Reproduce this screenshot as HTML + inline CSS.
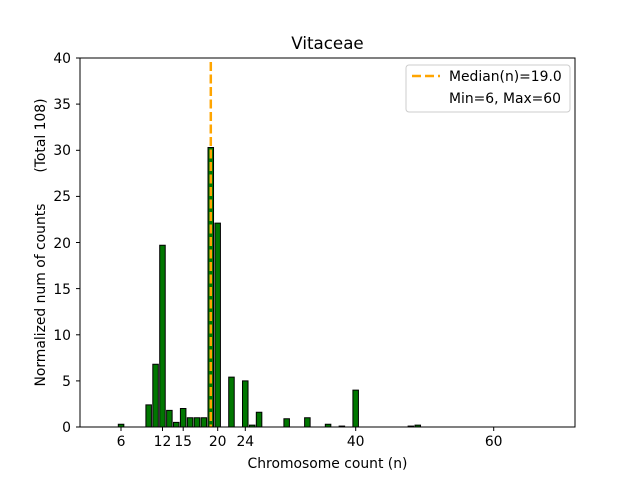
<!DOCTYPE html>
<html><head><meta charset="utf-8"><style>
html,body{margin:0;padding:0;background:#fff;}
svg{display:block;font-family:"DejaVu Sans","Liberation Sans",sans-serif;}
</style></head><body>
<svg width="640" height="480" viewBox="0 0 640 480" xmlns="http://www.w3.org/2000/svg">
<rect width="640" height="480" fill="#fff"/>
<g transform="translate(79.67,427) scale(6.9,-9.225)" fill="#007700" stroke="#000" stroke-width="1">
<rect vector-effect="non-scaling-stroke" x="5.6" y="0" width="0.8" height="0.3"/>
<rect vector-effect="non-scaling-stroke" x="9.6" y="0" width="0.8" height="2.4"/>
<rect vector-effect="non-scaling-stroke" x="10.6" y="0" width="0.8" height="6.8"/>
<rect vector-effect="non-scaling-stroke" x="11.6" y="0" width="0.8" height="19.7"/>
<rect vector-effect="non-scaling-stroke" x="12.6" y="0" width="0.8" height="1.8"/>
<rect vector-effect="non-scaling-stroke" x="13.6" y="0" width="0.8" height="0.5"/>
<rect vector-effect="non-scaling-stroke" x="14.6" y="0" width="0.8" height="2.0"/>
<rect vector-effect="non-scaling-stroke" x="15.6" y="0" width="0.8" height="1.0"/>
<rect vector-effect="non-scaling-stroke" x="16.6" y="0" width="0.8" height="1.0"/>
<rect vector-effect="non-scaling-stroke" x="17.6" y="0" width="0.8" height="1.0"/>
<rect vector-effect="non-scaling-stroke" x="18.6" y="0" width="0.8" height="30.3"/>
<rect vector-effect="non-scaling-stroke" x="19.6" y="0" width="0.8" height="22.1"/>
<rect vector-effect="non-scaling-stroke" x="21.6" y="0" width="0.8" height="5.4"/>
<rect vector-effect="non-scaling-stroke" x="23.6" y="0" width="0.8" height="5.0"/>
<rect vector-effect="non-scaling-stroke" x="24.6" y="0" width="0.8" height="0.2"/>
<rect vector-effect="non-scaling-stroke" x="25.6" y="0" width="0.8" height="1.6"/>
<rect vector-effect="non-scaling-stroke" x="29.6" y="0" width="0.8" height="0.9"/>
<rect vector-effect="non-scaling-stroke" x="32.6" y="0" width="0.8" height="1.0"/>
<rect vector-effect="non-scaling-stroke" x="35.6" y="0" width="0.8" height="0.3"/>
<rect vector-effect="non-scaling-stroke" x="37.6" y="0" width="0.8" height="0.1"/>
<rect vector-effect="non-scaling-stroke" x="39.6" y="0" width="0.8" height="4.0"/>
<rect vector-effect="non-scaling-stroke" x="47.6" y="0" width="0.8" height="0.1"/>
<rect vector-effect="non-scaling-stroke" x="48.6" y="0" width="0.8" height="0.2"/>
</g>
<line x1="210.8" y1="62" x2="210.8" y2="427" stroke="#ffa500" stroke-width="2.5" stroke-dasharray="9,3.5"/>
<rect x="80" y="58" width="495" height="369" fill="none" stroke="#000" stroke-width="1"/>
<g stroke="#000" stroke-width="1">
<line x1="121" y1="427" x2="121" y2="431"/><line x1="162.5" y1="427" x2="162.5" y2="431"/>
<line x1="183.2" y1="427" x2="183.2" y2="431"/><line x1="217.7" y1="427" x2="217.7" y2="431"/>
<line x1="245.3" y1="427" x2="245.3" y2="431"/><line x1="355.7" y1="427" x2="355.7" y2="431"/>
<line x1="493.7" y1="427" x2="493.7" y2="431"/>
<line x1="76" y1="427" x2="80" y2="427"/><line x1="76" y1="380.9" x2="80" y2="380.9"/>
<line x1="76" y1="334.8" x2="80" y2="334.8"/><line x1="76" y1="288.6" x2="80" y2="288.6"/>
<line x1="76" y1="242.5" x2="80" y2="242.5"/><line x1="76" y1="196.4" x2="80" y2="196.4"/>
<line x1="76" y1="150.3" x2="80" y2="150.3"/><line x1="76" y1="104.1" x2="80" y2="104.1"/>
<line x1="76" y1="58" x2="80" y2="58"/>
</g>
<g font-size="13.9" fill="#000" text-anchor="middle">
<text x="121" y="446">6</text><text x="162.5" y="446">12</text><text x="183.2" y="446">15</text>
<text x="217.7" y="446">20</text><text x="245.3" y="446">24</text><text x="355.7" y="446">40</text>
<text x="493.7" y="446">60</text>
</g>
<g font-size="13.9" fill="#000" text-anchor="end">
<text x="71" y="432">0</text><text x="71" y="386">5</text><text x="71" y="340">10</text>
<text x="71" y="294">15</text><text x="71" y="248">20</text><text x="71" y="201">25</text>
<text x="71" y="155">30</text><text x="71" y="109">35</text><text x="71" y="63">40</text>
</g>
<text x="327.5" y="468" font-size="13.9" text-anchor="middle">Chromosome count (n)</text>
<text x="327.5" y="49" font-size="16.7" text-anchor="middle">Vitaceae</text>
<text transform="translate(45,242.5) rotate(-90)" font-size="13.9" text-anchor="middle" style="white-space:pre" xml:space="preserve">Normalized num of counts       (Total 108)</text>
<rect x="406" y="65" width="164" height="47" rx="3" fill="#fff" stroke="#ccc" stroke-width="1"/>
<line x1="412" y1="76" x2="440" y2="76" stroke="#ffa500" stroke-width="2.5" stroke-dasharray="9,4"/>
<text x="449" y="81" font-size="13.9">Median(n)=19.0</text>
<text x="449" y="103" font-size="13.9">Min=6, Max=60</text>
</svg>
</body></html>
